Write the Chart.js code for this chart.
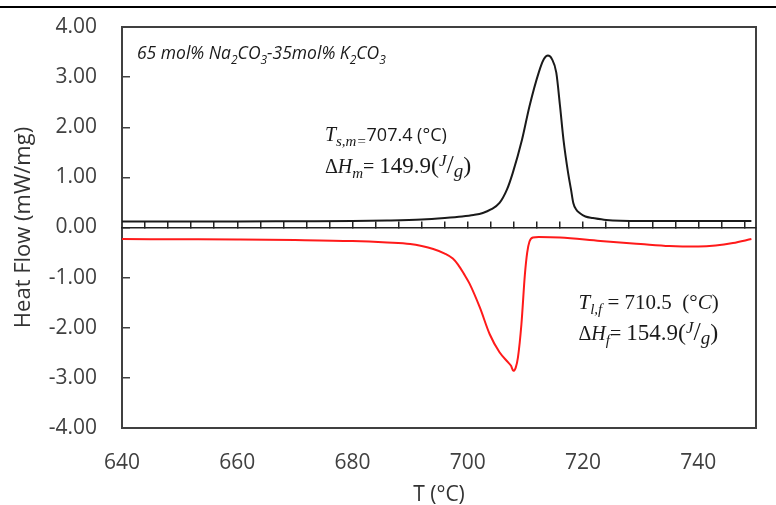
<!DOCTYPE html>
<html>
<head>
<meta charset="utf-8">
<title>DSC</title>
<script src="https://cdn.jsdelivr.net/npm/chart.js@4.4.1/dist/chart.umd.min.js"></script>
<style>
  body { margin: 0; background: #fff; }
  canvas { display: block; }
</style>
</head>
<body>
<canvas id="dsc" width="776" height="505"></canvas>
<script>
// heating scan (black, endotherm up)
const heatT = [640, 650, 660, 670, 680, 686, 692, 696, 699, 701, 702.6, 704, 705.5, 706.8, 707.8, 709.4, 710.7,
  712.3, 713.2, 713.9, 714.6, 715.35, 716.0, 716.6, 717.4, 717.9, 718.3, 718.8, 719.4, 720.4, 721.7, 724,
  730, 740, 749.2];
const heatQ = [0.12, 0.12, 0.12, 0.125, 0.13, 0.14, 0.16, 0.19, 0.22, 0.25, 0.29, 0.36, 0.49, 0.76, 1.09, 1.75, 2.42,
  3.09, 3.36, 3.43, 3.36, 3.09, 2.42, 1.75, 1.09, 0.76, 0.49, 0.36, 0.29, 0.22, 0.19, 0.15,
  0.13, 0.13, 0.13];

// cooling scan (red, exotherm down)
const coolT = [640, 650, 660, 670, 680, 686, 690, 692, 694, 696, 697.4, 698.3, 699.3, 700.3, 702.1, 703.8, 705.5,
  707.0, 707.5, 707.9, 708.3, 708.7, 709.3, 709.9, 710.3, 710.7, 711.3, 712.3, 716, 723, 730, 735, 740,
  743, 746, 749.2];
const coolQ = [-0.23, -0.235, -0.24, -0.25, -0.27, -0.3, -0.33, -0.37, -0.43, -0.52, -0.62, -0.74, -0.92, -1.12,
  -1.6, -2.13, -2.49, -2.69, -2.76, -2.86, -2.8, -2.59, -1.93, -0.94, -0.5, -0.28, -0.2, -0.19, -0.2, -0.27,
  -0.33, -0.37, -0.38, -0.36, -0.31, -0.23];

const T_MIN = 640, T_MAX = 750;
const Q_MIN = -4, Q_MAX = 4;

const FRAME = '#404040';
const INK = '#1a1a1a';
const SANS = '"Open Sans", sans-serif';
const SERIF = '"Liberation Serif", serif';

const toPoints = (xs, ys) => xs.map((x, i) => ({ x: x, y: ys[i] }));

// text blocks anchored in data units; each part = [text, font, baseline shift]
const sub = (t, f, d) => [t, f, d || 5];
const sup = (t, f) => [t, f, -7];
const enthalpy = (sym, value) => [
  ['Δ', '20px ' + SERIF, 0], ['H', 'italic 20px ' + SERIF, 0], sub(sym, 'italic 15px ' + SERIF),
  ['= ', '20px ' + SERIF, 0], [value, '23px ' + SERIF, 0], ['(', '24px ' + SERIF, 0],
  sup('J', 'italic 17px ' + SERIF), ['/', '26px ' + SERIF, 0],
  sub('g', 'italic 19px ' + SERIF, 4), [')', '24px ' + SERIF, 0]
];
const notes = [
  { at: [642.6, 3.37], parts: [
    ['65 mol% Na', 'italic 17.5px ' + SANS, 0], sub('2', 'italic 12px ' + SANS),
    ['CO', 'italic 17.5px ' + SANS, 0], sub('3', 'italic 12px ' + SANS),
    ['-35mol% K', 'italic 17.5px ' + SANS, 0], sub('2', 'italic 12px ' + SANS),
    ['CO', 'italic 17.5px ' + SANS, 0], sub('3', 'italic 12px ' + SANS)
  ]},
  { at: [675.2, 1.72], parts: [
    ['T', 'italic 20px ' + SERIF, 0], sub('s,m=', 'italic 15px ' + SERIF),
    ['707.4 (°C)', '18px ' + SANS, 0]
  ]},
  { at: [675.2, 1.08], parts: enthalpy('m', '149.9') },
  { at: [719.2, -1.62], parts: [
    ['T', 'italic 21px ' + SERIF, 0], sub('l,f', 'italic 15px ' + SERIF),
    [' = 710.5  (°', '21px ' + SERIF, 0], ['C', 'italic 21px ' + SERIF, 0], [')', '21px ' + SERIF, 0]
  ]},
  { at: [719.2, -2.24], parts: enthalpy('f', '154.9') }
];

const notesPlugin = {
  id: 'notes',
  beforeDraw(chart) {
    // rule across the top of the figure
    const ctx = chart.ctx;
    ctx.save();
    ctx.fillStyle = '#000';
    ctx.fillRect(0, 6, chart.width, 2);
    ctx.restore();
  },
  afterDatasetsDraw(chart) {
    const { ctx, scales: { x, y } } = chart;
    ctx.save();
    ctx.textBaseline = 'alphabetic';
    ctx.textAlign = 'left';
    ctx.fillStyle = INK;
    notes.forEach(n => {
      let px = x.getPixelForValue(n.at[0]);
      const py = y.getPixelForValue(n.at[1]);
      n.parts.forEach(([text, font, dy]) => {
        ctx.font = font;
        ctx.fillText(text, px, py + dy);
        px += ctx.measureText(text).width;
      });
    });
    ctx.restore();
  }
};

const tickFont = { family: SANS, size: 21 };
const hidden = {
  ticks: { display: false },
  grid: { display: true, drawOnChartArea: false, drawTicks: false },
  border: { display: true, color: FRAME, width: 2 }
};

new Chart(document.getElementById('dsc'), {
  type: 'scatter',
  data: {
    datasets: [
      {
        label: 'Heating',
        data: toPoints(heatT, heatQ),
        showLine: true,
        borderColor: INK,
        borderWidth: 2,
        pointRadius: 0,
        cubicInterpolationMode: 'monotone'
      },
      {
        label: 'Cooling',
        data: toPoints(coolT, coolQ),
        showLine: true,
        borderColor: '#ff1a1a',
        borderWidth: 2,
        pointRadius: 0,
        cubicInterpolationMode: 'monotone'
      }
    ]
  },
  options: {
    responsive: false,
    animation: false,
    layout: { padding: { top: 27, right: 20, left: 0, bottom: 0 } },
    plugins: { legend: { display: false }, tooltip: { enabled: false } },
    scales: {
      x: {
        type: 'linear', position: 'bottom', min: T_MIN, max: T_MAX,
        ticks: { stepSize: 20, includeBounds: false, padding: 22, color: FRAME, font: tickFont },
        grid: { display: true, drawOnChartArea: false, drawTicks: false },
        border: { display: true, color: FRAME, width: 2 },
        title: { display: true, text: 'T (°C)', color: '#333', font: tickFont, padding: { top: 0, bottom: -3 } },
        afterFit: s => { s.height = 77; }
      },
      y: {
        type: 'linear', position: 'left', min: Q_MIN, max: Q_MAX,
        ticks: { stepSize: 1, padding: 33, color: FRAME, font: tickFont, callback: v => v.toFixed(2) },
        grid: { display: true, drawOnChartArea: false, drawTicks: true, tickLength: -8, color: FRAME, lineWidth: 1.5 },
        border: { display: true, color: FRAME, width: 2 },
        title: { display: true, text: 'Heat Flow (mW/mg)', color: '#333', font: { family: SANS, size: 22 }, padding: { top: 11, bottom: 0 } },
        afterFit: s => { s.width = 122; s.paddingTop = 0; s.paddingBottom = 0; }
      },
      xTop: Object.assign({ type: 'linear', position: 'top', min: T_MIN, max: T_MAX,
        afterFit: s => { s.height = 0; } }, hidden),
      yRight: Object.assign({ type: 'linear', position: 'right', min: Q_MIN, max: Q_MAX,
        afterFit: s => { s.width = 0; } }, hidden),
      // baseline axis through zero with small inward ticks every 4 °C
      xZero: {
        type: 'linear', axis: 'x', position: { y: 0 }, min: T_MIN, max: T_MAX,
        ticks: { display: false, stepSize: 4, includeBounds: false },
        grid: { display: true, drawOnChartArea: false, drawTicks: true, tickLength: -7, color: '#222', lineWidth: 1.5 },
        border: { display: true, color: '#222', width: 1.5 }
      }
    }
  },
  plugins: [notesPlugin]
});
</script>
</body>
</html>
